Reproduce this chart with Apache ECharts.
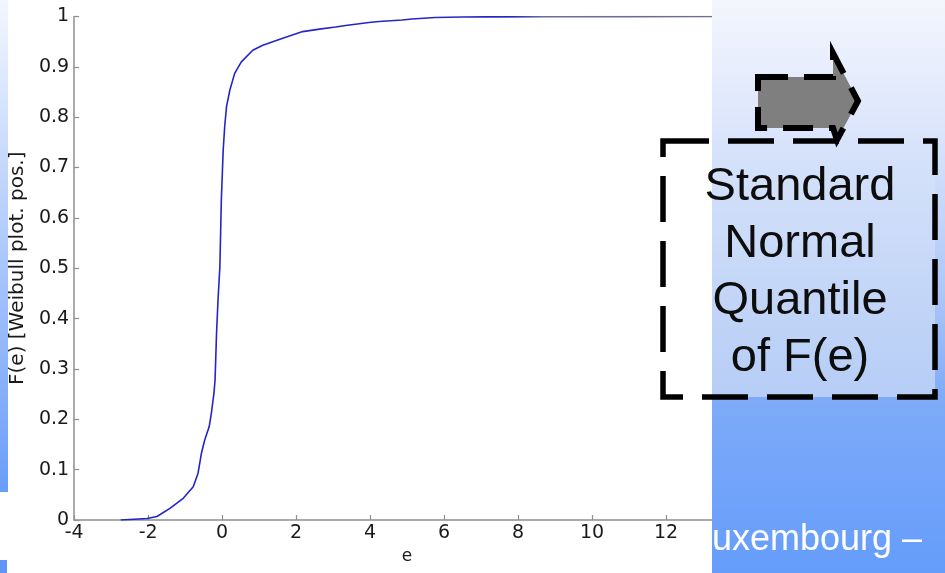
<!DOCTYPE html>
<html>
<head>
<meta charset="utf-8">
<script src="https://cdn.jsdelivr.net/npm/echarts@6/dist/echarts.min.js"></script>
<style>
  html, body { margin: 0; padding: 0; background: #ffffff; }
  #chart { width: 945px; height: 573px; }
</style>
</head>
<body>
<div id="chart"></div>
<script>
// Empirical CDF of the residuals e, Weibull plotting positions
const eValues = [-2.74, -2.03, -1.76, -1.41, -1.05, -0.78, -0.65, -0.56, -0.47, -0.35,
                 -0.29, -0.22, -0.19, -0.15, -0.11, -0.06, -0.02, 0.03, 0.07, 0.12,
                 0.21, 0.34, 0.52, 0.83, 1.10, 1.64, 2.18, 2.63, 3.07, 3.34,
                 3.97, 4.24, 4.87, 5.13, 5.76, 6.5, 7.1, 9.0, 11.0, 13.15, 14.0];
const fValues = [0, 0.003, 0.007, 0.023, 0.043, 0.066, 0.093, 0.132, 0.159, 0.185,
                 0.212, 0.252, 0.278, 0.371, 0.437, 0.503, 0.636, 0.735, 0.781, 0.821,
                 0.854, 0.887, 0.910, 0.933, 0.943, 0.957, 0.970, 0.975, 0.979, 0.982,
                 0.988, 0.990, 0.993, 0.995, 0.998, 0.999, 0.9993, 0.9996, 0.9998, 1.0, 1.0];

// Axis ranges
const xMin = -4, xMax = 14, xStep = 2;
const yMin = 0, yMax = 1, yStep = 0.1;

// Texts
const xTitle = 'e';
const yTitle = 'F(e) [Weibull plot. pos.]';
const boxLines = ['Standard', 'Normal', 'Quantile', 'of F(e)'];
const footerText = 'uxembourg \u2013';

const points = eValues.map((e, i) => [e, fValues[i]]);

const chart = echarts.init(document.getElementById('chart'), null, { renderer: 'canvas' });

const axisColor = '#8f8f8f';
const labelFont = { color: '#1a1a1a', fontFamily: 'DejaVu Sans', fontSize: 19 };

chart.setOption({
  backgroundColor: '#ffffff',
  animation: false,
  grid: { left: 70.5, right: 205, top: 16.5, bottom: 53, containLabel: false },
  xAxis: {
    type: 'value', min: xMin, max: xMax, interval: xStep,
    name: xTitle, nameLocation: 'middle', nameGap: 28,
    nameTextStyle: { color: '#1a1a1a', fontFamily: 'DejaVu Sans', fontSize: 17 },
    axisLine: { show: true, onZero: false, lineStyle: { color: axisColor, width: 1.5 } },
    axisTick: { show: true, inside: true, length: 5, lineStyle: { color: axisColor, width: 1.2 } },
    axisLabel: Object.assign({ margin: 4 }, labelFont),
    splitLine: { show: false }
  },
  yAxis: {
    type: 'value', min: yMin, max: yMax, interval: yStep,
    name: yTitle, nameLocation: 'middle', nameGap: 37, nameRotate: 90,
    nameTextStyle: { color: '#1a1a1a', fontFamily: 'DejaVu Sans', fontSize: 20 },
    axisLine: { show: true, onZero: false, lineStyle: { color: axisColor, width: 1.5 } },
    axisTick: { show: true, inside: true, length: 5, lineStyle: { color: axisColor, width: 1.2 } },
    axisLabel: Object.assign({ margin: 5 }, labelFont),
    splitLine: { show: false }
  },
  series: [{
    type: 'line',
    data: points,
    showSymbol: false,
    smooth: false,
    lineStyle: {
      width: 1.6,
      color: new echarts.graphic.LinearGradient(0, 0, 1, 0, [
        { offset: 0, color: '#2222cc' },
        { offset: 0.63, color: '#2828c2' },
        { offset: 0.68, color: '#6c6c9c' },
        { offset: 1, color: '#6c6c9c' }
      ])
    },
    z: 2
  }],
  graphic: [
    // left edge strip of the slide background
    {
      type: 'rect', z: 100,
      shape: { x: 0, y: 0, width: 8, height: 492 },
      style: {
        fill: new echarts.graphic.LinearGradient(0, 0, 0, 1, [
          { offset: 0, color: '#f3f6fe' },
          { offset: 1, color: '#6a9df8' }
        ])
      }
    },
    { type: 'rect', z: 100, shape: { x: 0, y: 560, width: 7, height: 13 }, style: { fill: '#5f95f6' } },
    // right slide panel
    {
      type: 'rect', z: 100,
      shape: { x: 712, y: 0, width: 233, height: 573 },
      style: {
        fill: new echarts.graphic.LinearGradient(0, 0, 0, 1, [
          { offset: 0, color: '#f4f6fd' },
          { offset: 0.24, color: '#dae4fb' },
          { offset: 0.5, color: '#afc8f7' },
          { offset: 0.7, color: '#7eaaf8' },
          { offset: 1, color: '#659dfb' }
        ])
      }
    },
    // light textured fill behind the note
    {
      type: 'rect', z: 101,
      shape: { x: 712, y: 141, width: 223, height: 256 },
      style: {
        fill: new echarts.graphic.LinearGradient(0, 0, 0, 1, [
          { offset: 0, color: '#d7e3fa' },
          { offset: 1, color: '#b6cdf6' }
        ])
      }
    },
    // footer text
    {
      type: 'text', z: 102,
      style: {
        text: footerText, x: 712, y: 540,
        textAlign: 'left', textVerticalAlign: 'middle',
        font: '36px "Liberation Sans", Arial, sans-serif', fill: '#ffffff'
      }
    },
    // arrow
    {
      type: 'polygon', z: 103,
      shape: { points: [[758, 77], [833, 77], [833, 53], [858, 101], [837, 140], [833, 128], [758, 128]] },
      style: { fill: '#7f7f7f', stroke: '#000000', lineWidth: 6, lineDash: [30, 16] }
    },
    // dashed note box
    {
      type: 'rect', z: 104,
      shape: { x: 663, y: 141, width: 272, height: 256 },
      style: { fill: 'transparent', stroke: '#000000', lineWidth: 5.5, lineDash: [46, 19] }
    },
    {
      type: 'text', z: 105,
      style: {
        text: boxLines.join('\n'), x: 800, y: 273,
        textAlign: 'center', textVerticalAlign: 'middle',
        font: '47px "Liberation Sans", Arial, sans-serif', lineHeight: 57, fill: '#0d0d0d'
      }
    }
  ]
});
</script>
</body>
</html>
